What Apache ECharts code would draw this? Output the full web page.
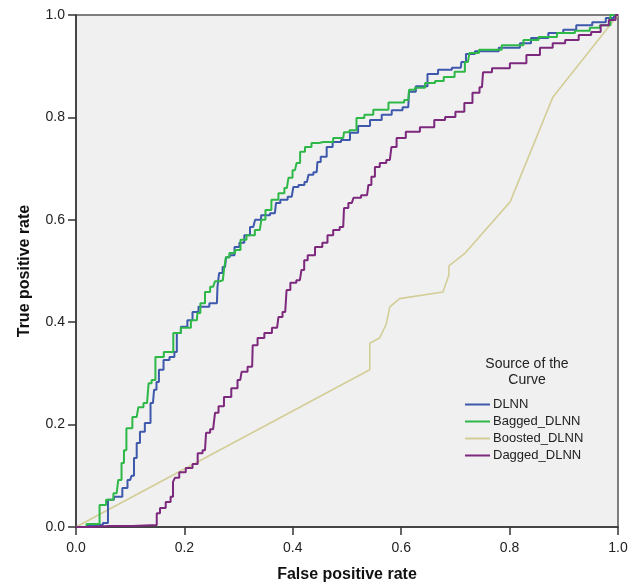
<!DOCTYPE html>
<html>
<head>
<meta charset="utf-8">
<script src="https://cdn.jsdelivr.net/npm/echarts@6/dist/echarts.min.js"></script>
<style>html,body{margin:0;padding:0;background:#fff}#c{width:635px;height:585px}</style>
</head>
<body>
<div id="c"></div>
<script>
const seriesNames = ['DLNN', 'Bagged_DLNN', 'Boosted_DLNN', 'Dagged_DLNN'];
const tickLabels = ['0.0', '0.2', '0.4', '0.6', '0.8', '1.0'];

const dlnnFpr = [0,0.04,0.059,0.059,0.081,0.09,0.1,0.105,0.109,0.115,0.121,0.133,0.142,0.146,0.151,0.155,0.168,0.177,0.186,0.186,0.201,0.21,0.22,0.232,0.26,0.262,0.266,0.275,0.279,0.288,0.297,0.306,0.315,0.327,0.334,0.349,0.367,0.371,0.383,0.398,0.404,0.417,0.426,0.432,0.444,0.447,0.456,0.469,0.478,0.5,0.511,0.53,0.555,0.573,0.592,0.613,0.616,0.638,0.659,0.677,0.71,0.712,0.727,0.745,0.815,0.823,0.856,0.887,0.911,0.935,0.97,0.985,1];
const dlnnTpr = [0,0.004,0.008,0.053,0.059,0.076,0.092,0.1,0.135,0.164,0.186,0.203,0.242,0.268,0.283,0.307,0.326,0.332,0.342,0.379,0.391,0.404,0.42,0.43,0.437,0.469,0.496,0.508,0.527,0.531,0.547,0.555,0.57,0.586,0.6,0.609,0.613,0.633,0.639,0.645,0.664,0.668,0.674,0.688,0.693,0.713,0.723,0.742,0.752,0.756,0.77,0.783,0.795,0.805,0.814,0.82,0.85,0.861,0.885,0.893,0.897,0.908,0.924,0.929,0.936,0.945,0.955,0.965,0.971,0.98,0.986,0.994,1];

const baggedFpr = [0,0.039,0.048,0.063,0.075,0.081,0.087,0.09,0.096,0.112,0.118,0.131,0.137,0.142,0.151,0.173,0.186,0.201,0.223,0.225,0.234,0.242,0.253,0.26,0.271,0.275,0.278,0.288,0.299,0.308,0.321,0.339,0.345,0.354,0.367,0.38,0.389,0.395,0.404,0.41,0.417,0.428,0.441,0.456,0.493,0.496,0.513,0.522,0.542,0.555,0.598,0.613,0.616,0.635,0.653,0.672,0.685,0.712,0.723,0.729,0.758,0.813,0.838,0.869,0.906,0.935,0.961,0.972,1];
const baggedTpr = [0,0.006,0.043,0.053,0.066,0.092,0.125,0.15,0.193,0.215,0.234,0.242,0.281,0.287,0.332,0.342,0.379,0.389,0.404,0.418,0.437,0.459,0.469,0.48,0.482,0.502,0.527,0.535,0.541,0.561,0.57,0.58,0.6,0.619,0.639,0.652,0.662,0.682,0.697,0.711,0.733,0.742,0.75,0.752,0.76,0.771,0.775,0.799,0.805,0.815,0.829,0.834,0.854,0.858,0.867,0.871,0.879,0.889,0.908,0.926,0.932,0.941,0.951,0.957,0.965,0.969,0.975,0.98,1];

const boostedFpr = [0,0.542,0.542,0.56,0.572,0.579,0.597,0.677,0.688,0.688,0.718,0.801,0.88,1];
const boostedTpr = [0,0.307,0.359,0.369,0.395,0.43,0.446,0.459,0.492,0.51,0.535,0.635,0.84,1];

const daggedFpr = [0,0.06,0.149,0.149,0.161,0.17,0.179,0.179,0.186,0.195,0.21,0.22,0.229,0.238,0.242,0.253,0.26,0.266,0.28,0.293,0.303,0.308,0.325,0.327,0.343,0.352,0.371,0.376,0.386,0.391,0.4,0.413,0.419,0.423,0.432,0.45,0.459,0.469,0.48,0.493,0.496,0.509,0.515,0.537,0.542,0.548,0.555,0.566,0.579,0.585,0.598,0.619,0.65,0.672,0.69,0.71,0.723,0.74,0.749,0.753,0.782,0.819,0.843,0.869,0.89,0.915,0.94,0.961,0.975,0.991,1];
const daggedTpr = [0,0.002,0.004,0.027,0.037,0.049,0.059,0.088,0.096,0.107,0.115,0.123,0.144,0.15,0.184,0.191,0.223,0.236,0.254,0.271,0.287,0.303,0.313,0.355,0.369,0.379,0.389,0.41,0.42,0.463,0.477,0.482,0.502,0.521,0.531,0.547,0.555,0.57,0.58,0.586,0.623,0.633,0.643,0.648,0.668,0.684,0.703,0.711,0.717,0.742,0.76,0.772,0.781,0.795,0.801,0.811,0.828,0.848,0.859,0.888,0.896,0.906,0.922,0.936,0.945,0.951,0.961,0.967,0.98,0.99,1];

const colors = ['#3E58AC', '#2EB848', '#D3CE97', '#7C287D'];

function pairs(xs, ys) { return xs.map((x, i) => [x, ys[i]]); }

const chart = echarts.init(document.getElementById('c'), null, {renderer: 'canvas'});
const FONT = '"Liberation Sans", Arial, sans-serif';
const axisCommon = {
  type: 'value', min: 0, max: 1, interval: 0.2,
  axisLine: {show: true, lineStyle: {color: '#333', width: 1.5}},
  axisTick: {show: true, inside: false, length: 8, lineStyle: {color: '#333', width: 1.5}},
  splitLine: {show: false},
  axisLabel: {color: '#222', fontSize: 14, fontFamily: FONT, formatter: v => tickLabels[Math.round(v / 0.2)]},
  nameLocation: 'middle',
  nameTextStyle: {color: '#111', fontSize: 16, fontWeight: 'bold', fontFamily: FONT}
};
const data = [pairs(dlnnFpr, dlnnTpr), pairs(baggedFpr, baggedTpr), pairs(boostedFpr, boostedTpr), pairs(daggedFpr, daggedTpr)];
chart.setOption({
  animation: false,
  color: colors,
  grid: {left: 76, top: 15, right: 17, bottom: 58, outerBoundsMode: 'none', containLabel: false, show: true, backgroundColor: '#f0f0f0', borderColor: '#555', borderWidth: 1.5},
  xAxis: Object.assign({}, axisCommon, {name: 'False positive rate', nameGap: 40, axisLabel: Object.assign({}, axisCommon.axisLabel, {margin: 14})}),
  yAxis: Object.assign({}, axisCommon, {name: 'True positive rate', nameGap: 43, axisLabel: Object.assign({}, axisCommon.axisLabel, {margin: 11})}),
  legend: {
    orient: 'vertical', left: 460, top: 393,
    data: seriesNames,
    icon: 'rect', itemWidth: 25, itemHeight: 2, itemGap: 4,
    textStyle: {color: '#222', fontSize: 13, fontFamily: FONT, padding: [0, 0, 0, -2]}
  },
  graphic: [{
    type: 'text', x: 527, y: 356,
    style: {text: 'Source of the\nCurve', textAlign: 'center', fill: '#222', fontSize: 14, lineHeight: 16, fontFamily: FONT}
  }],
  series: seriesNames.map((n, i) => ({
    name: n, type: 'line', data: data[i], showSymbol: false, symbol: 'none',
    step: i === 2 ? false : 'middle',
    lineStyle: {width: i === 2 ? 1.6 : 2, color: colors[i]},
    itemStyle: {color: colors[i]},
    z: [2, 3, 1, 4][i]
  }))
});
</script>
</body>
</html>
